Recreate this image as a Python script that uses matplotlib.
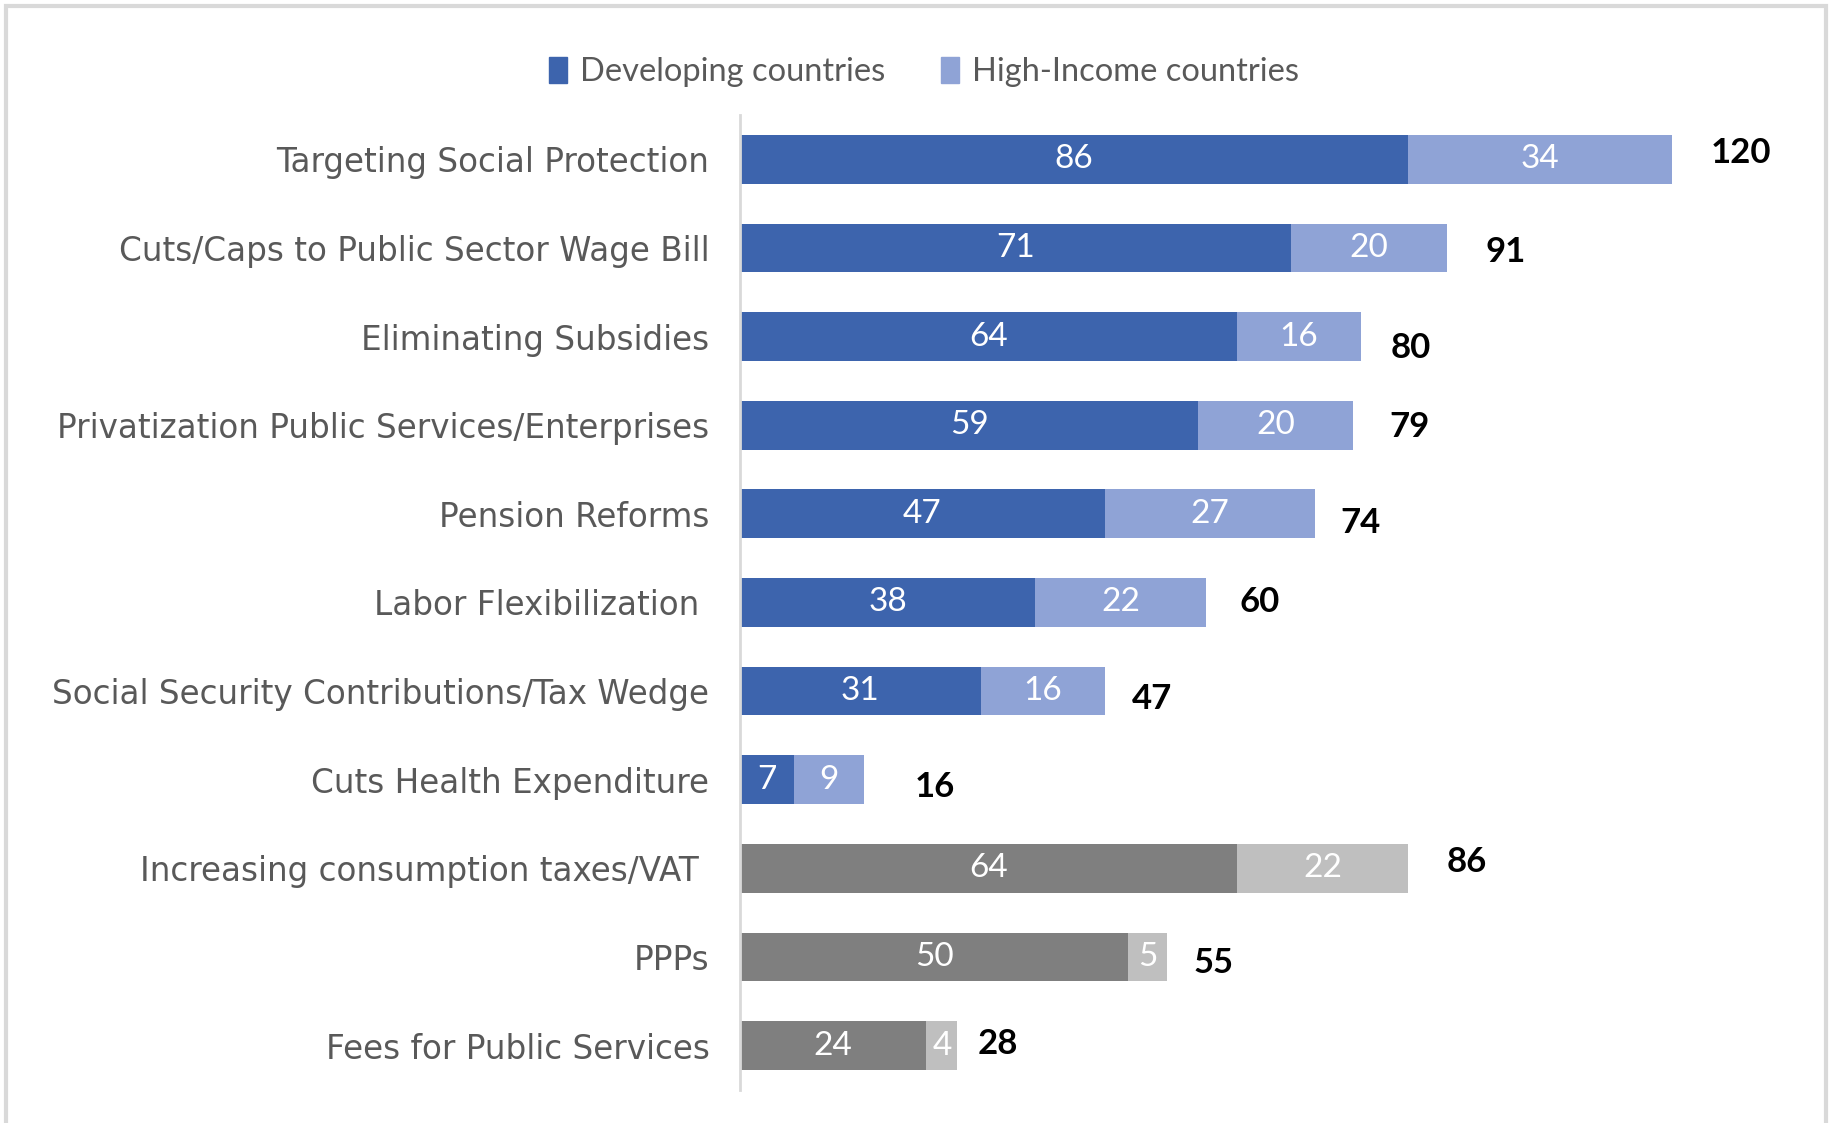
import matplotlib
matplotlib.use("Agg")
import matplotlib.pyplot as plt
import matplotlib.patches as mpatches
import numpy as np

categories = ["Targeting Social Protection",
              "Cuts/Caps to Public Sector Wage Bill",
              "Eliminating Subsidies",
              "Privatization Public Services/Enterprises",
              "Pension Reforms",
              "Labor Flexibilization ",
              "Social Security Contributions/Tax Wedge",
              "Cuts Health Expenditure",
              "Increasing consumption taxes/VAT ",
              "PPPs",
              "Fees for Public Services"]
developing  = [86, 71, 64, 59, 47, 38, 31, 7, 64, 50, 24]
high_income = [34, 20, 16, 20, 27, 22, 16, 9, 22, 5, 4]
totals      = [120, 91, 80, 79, 74, 60, 47, 16, 86, 55, 28]
grey_rows   = [False] * 8 + [True] * 3

# manual nudges of the total labels (pixels), as placed in the original
tot_dx = [39, 39, 29, 36, 26, 34, 27, 50, 39, 26, 20]
tot_dy = [6, -4, -11, -2, -9, 0, -8, -7, 6, -6, 2]

blue_d, blue_l = "#3D64AD", "#8FA3D6"
grey_d, grey_l = "#7F7F7F", "#BFBFBF"
txt_grey = "#595959"

fig = plt.figure(figsize=(18.33, 11.23), dpi=100)
ax = fig.add_axes([0.4037, 0.0294, 0.555, 0.8682])

y = np.arange(len(categories))
c_dev = [grey_d if g else blue_d for g in grey_rows]
c_hi = [grey_l if g else blue_l for g in grey_rows]

b1 = ax.barh(y, developing, height=0.55, color=c_dev)
b2 = ax.barh(y, high_income, left=developing, height=0.55, color=c_hi)

ax.bar_label(b1, label_type="center", color="white", fontsize=24, family="Lato")
ax.bar_label(b2, label_type="center", color="white", fontsize=24, family="Lato")

for i in range(len(categories)):
    ax.annotate(str(totals[i]), xy=(developing[i] + high_income[i], i),
                xytext=(tot_dx[i], tot_dy[i]), textcoords="offset pixels",
                ha="left", va="center", fontsize=25, fontweight="bold",
                family="Lato", color="black")

ax.set_ylim(len(categories) - 0.5, -0.5)
ax.set_xlim(0, 131)
ax.set_xticks([])
ax.set_yticks(y, categories)
ax.tick_params(axis="y", length=0, pad=22, labelsize=23.5, labelcolor=txt_grey)
for lab in ax.get_yticklabels():
    lab.set_family("DejaVu Sans")
for s in ["top", "right", "bottom"]:
    ax.spines[s].set_visible(False)
ax.spines["left"].set_color("#D9D9D9")
ax.spines["left"].set_linewidth(2)

handles = [mpatches.Patch(color=blue_d, label="Developing countries"),
           mpatches.Patch(color=blue_l, label="High-Income countries")]
fig.legend(handles=handles, loc="center", bbox_to_anchor=(0.504, 0.9357), ncol=2,
           frameon=False, prop={"family": "Lato", "size": 23.5}, labelcolor=txt_grey,
           handlelength=0.55, handleheight=0.85, handletextpad=0.4, columnspacing=1.7)

# light frame around the chart
fig.patches.append(mpatches.Rectangle((0.0033, -0.01), 0.9929, 1.0047,
                                      transform=fig.transFigure, fill=False,
                                      edgecolor="#D9D9D9", linewidth=3))

fig.savefig("out.png", dpi=100, facecolor="white")
